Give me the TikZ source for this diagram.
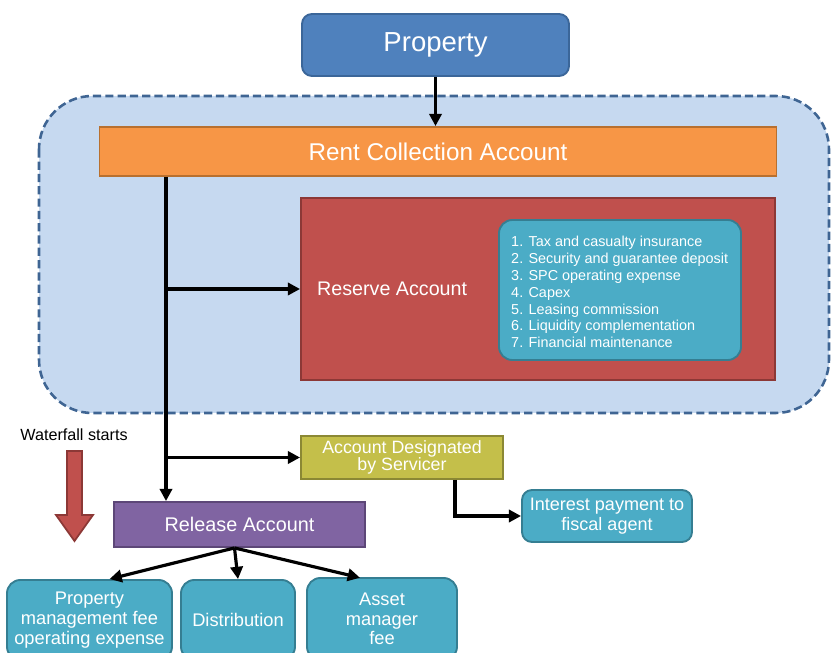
\documentclass[tikz,border=0pt]{standalone}
\usepackage{fontspec}
\setmainfont{Liberation Sans}
\usetikzlibrary{arrows.meta}

\definecolor{propfill}{HTML}{4F81BD}
\definecolor{propline}{HTML}{3B6699}
\definecolor{zonefill}{HTML}{C6D9F0}
\definecolor{zoneline}{HTML}{3F6593}
\definecolor{rentfill}{HTML}{F79646}
\definecolor{rentline}{HTML}{B8702F}
\definecolor{resfill}{HTML}{C0504D}
\definecolor{resline}{HTML}{8C3836}
\definecolor{tealfill}{HTML}{4BACC6}
\definecolor{tealline}{HTML}{357E92}
\definecolor{olivefill}{HTML}{C4BF4A}
\definecolor{oliveline}{HTML}{8B8834}
\definecolor{relfill}{HTML}{8064A2}
\definecolor{relline}{HTML}{5D4778}

\begin{document}
\begin{tikzpicture}[x=0.03cm,y=-0.03cm]
    		\newcommand{\lw}{2.7pt} % width of the arrows
    		\newcommand{\bw}{1.6pt} % width of the box borders

    		% set the style of the boxes and arrows
    		\tikzset{
    			box/.style={
    				draw,
    				line width=\bw,
    				text=white,
    				inner sep=0pt,
    				align=center
    				},
    			roundbox/.style={
    				box,
    				rounded corners=0.4cm,
    				fill=tealfill,
    				draw=tealline
    				},
    			flow/.style={
    				-{Triangle[length=10.5pt,width=10.5pt]},
    				line width=\lw,
    				black
    				}
    		}

    		\useasboundingbox (0,0) rectangle (831,653);
    		\clip (0,0) rectangle (831,653);

    		% dashed zone
    		\draw[fill=zonefill, draw=zoneline, line width=2.2pt, dash pattern=on 7pt off 3.5pt, rounded corners=1.6cm]
    		    (39,96) rectangle (829,413);

    		% accounts
    		\node[box, fill=propfill, draw=propline, rounded corners=0.3cm, minimum width=8.01cm, minimum height=1.86cm,
    		      font=\fontsize{23.5}{28}\selectfont] (property) at (435.5,45) {Property};
    		\node[box, fill=rentfill, draw=rentline, minimum width=20.31cm, minimum height=1.47cm,
    		      font=\fontsize{20.7}{24}\selectfont] (rent) at (438,151.5) {Rent Collection Account};
    		\node[box, fill=resfill, draw=resline, minimum width=14.22cm, minimum height=5.46cm] (reserve) at (538,289) {};
    		\node[text=white, anchor=west, inner sep=0pt, font=\fontsize{16.8}{20}\selectfont] (reslabel) at (317,289) {Reserve Account};
    		\node[roundbox, minimum width=7.26cm, minimum height=4.2cm] (items) at (620,290) {};
    		\node[text=white, anchor=west, align=left, inner sep=0pt, font=\fontsize{12.3}{14.4}\selectfont] (itemtext) at (511,292)
    		    {1. Tax and casualty insurance\\
    		     2. Security and guarantee deposit\\
    		     3. SPC operating expense\\
    		     4. Capex\\
    		     5. Leasing commission\\
    		     6. Liquidity complementation\\
    		     7. Financial maintenance};
    		\node[box, fill=olivefill, draw=oliveline, minimum width=6.06cm, minimum height=1.29cm,
    		      font=\fontsize{15.2}{14}\selectfont] (servicer) at (402,457.5) {Account Designated\\by Servicer};
    		\node[roundbox, minimum width=5.1cm, minimum height=1.56cm, rounded corners=0.3cm,
    		      font=\fontsize{15.4}{17.5}\selectfont] (interest) at (607,516) {Interest payment to\\fiscal agent};
    		\node[box, fill=relfill, draw=relline, minimum width=7.53cm, minimum height=1.35cm,
    		      font=\fontsize{16.9}{20}\selectfont] (release) at (239.5,524.5) {Release Account};

    		% payments
    		\node[roundbox, minimum width=4.95cm, minimum height=2.4cm,
    		      font=\fontsize{15.6}{16.8}\selectfont] (pmfee) at (89.5,620) {Property\\management fee\\operating expense};
    		\node[roundbox, minimum width=3.42cm, minimum height=2.4cm,
    		      font=\fontsize{15.6}{16.8}\selectfont] (distrib) at (238,620) {Distribution};
    		\node[roundbox, minimum width=4.5cm, minimum height=2.46cm,
    		      font=\fontsize{15.6}{16.8}\selectfont] (asset) at (382,619) {Asset\\manager\\fee};

    		% waterfall
    		\node[font=\fontsize{13.8}{16}\selectfont, inner sep=0pt] (wlabel) at (74,435) {Waterfall starts};
    		\draw[fill=resfill, draw=resline, line width=1.5pt]
    		    (67,451) -- (82,451) -- (82,515) -- (93,515) -- (74.5,541) -- (56,515) -- (67,515) -- cycle;

    		% arrows
    		\coordinate (trunk) at (166,0);
    		\coordinate (drop) at (455,0);
    		\draw[flow] (property.south) -- (property.south |- rent.north);
    		\draw[flow] (rent.south -| trunk) -- (release.north -| trunk);
    		\draw[flow] (trunk |- reserve.west) -- (reserve.west);
    		\draw[flow] (trunk |- servicer.west) -- (servicer.west);
    		\draw[flow] (servicer.south -| drop) |- (interest.west);
    		\draw[flow] ([xshift=-0.15cm]release.south) -- ([xshift=0.6cm]pmfee.north);
    		\draw[flow] ([xshift=-0.15cm]release.south) -- (distrib.north);
    		\draw[flow] ([xshift=-0.15cm]release.south) -- ([xshift=-0.66cm,yshift=-0.02cm]asset.north);

\end{tikzpicture}
\end{document}
